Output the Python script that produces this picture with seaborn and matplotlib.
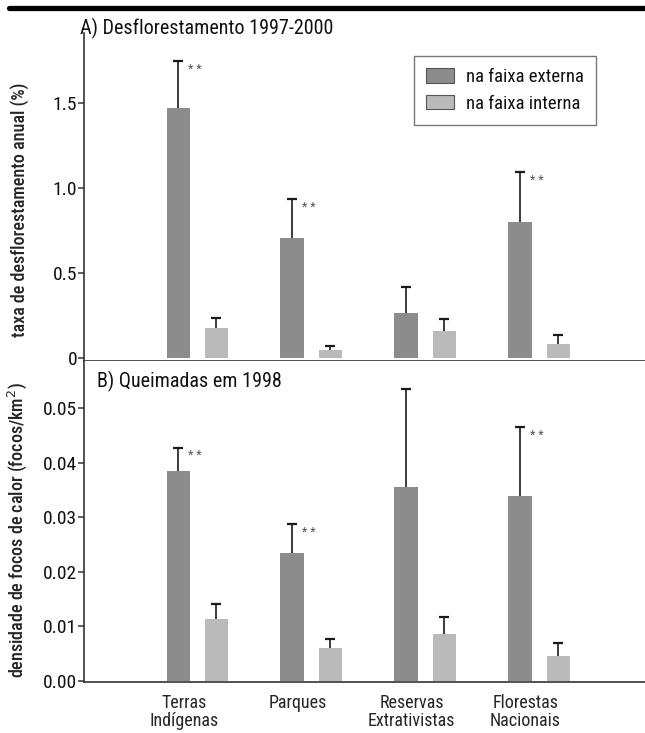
import numpy as np
import pandas as pd
import matplotlib
matplotlib.use('Agg')
import matplotlib.pyplot as plt
import seaborn as sns
from matplotlib import font_manager
from matplotlib.lines import Line2D

# Data
areas = ['Terras\nIndígenas', 'Parques', 'Reservas\nExtrativistas', 'Florestas\nNacionais']
faixas = ['na faixa externa', 'na faixa interna']

# A) annual deforestation rate (%)
desf_externa = [1.467, 0.702, 0.261, 0.796]
desf_interna = [0.173, 0.045, 0.159, 0.082]
desf_err_externa = [0.278, 0.231, 0.153, 0.294]
desf_err_interna = [0.062, 0.024, 0.067, 0.052]
desf_signif = [True, True, False, True]

# B) fire density 1998 (focos/km2)
queim_externa = [0.0385, 0.0234, 0.0356, 0.0339]
queim_interna = [0.0114, 0.0060, 0.0086, 0.0046]
queim_err_externa = [0.0043, 0.0054, 0.0179, 0.0127]
queim_err_interna = [0.0028, 0.0016, 0.0032, 0.0024]
queim_signif = [True, True, False, True]

cor_externa = '#8c8c8c'
cor_interna = '#bababa'

sns.set_theme(style='ticks')

# pick a narrow font if one is installed
available = {f.name for f in font_manager.fontManager.ttflist}
fam = 'DejaVu Sans'
for cand in ['Roboto Condensed', 'Liberation Sans Narrow', 'DejaVu Sans Condensed', 'Open Sans Condensed']:
    if cand in available:
        fam = cand
        break
else:
    if any(f.name == 'DejaVu Sans' and 'condensed' in str(f.stretch) for f in font_manager.fontManager.ttflist):
        plt.rcParams['font.stretch'] = 'condensed'
plt.rcParams['font.family'] = [fam, 'DejaVu Sans']
plt.rcParams['text.color'] = '#111111'
plt.rcParams['ytick.color'] = '#333333'
plt.rcParams['ytick.labelcolor'] = '#111111'


def long_df(ext, intr, err_ext, err_int):
    return pd.DataFrame({
        'area': areas * 2,
        'faixa': [faixas[0]] * 4 + [faixas[1]] * 4,
        'valor': ext + intr,
        'erro': err_ext + err_int,
    })


def draw_panel(ax, df, signif, show_legend):
    sns.barplot(data=df, x='area', y='valor', hue='faixa', order=areas, hue_order=faixas,
                palette=[cor_externa, cor_interna], width=0.672, gap=0.39,
                errorbar=None, ax=ax, legend=show_legend, linewidth=0, saturation=1)
    for cont, faixa in zip(ax.containers, faixas):
        sub = df[df['faixa'] == faixa].set_index('area').loc[areas]
        xs = [p.get_x() + p.get_width() / 2 for p in cont]
        vals = sub['valor'].values
        errs = sub['erro'].values
        eb = ax.errorbar(xs, vals, yerr=[np.zeros(len(vals)), errs], fmt='none',
                         ecolor='#1a1a1a', elinewidth=1.2, capsize=3.4, capthick=1.6, zorder=3)
        eb[1][0].set_visible(False)  # hide lower caps
        if faixa == faixas[0]:
            for x, v, e, s in zip(xs, vals, errs, signif):
                if s:
                    ax.annotate('* *', (x, v + e), xytext=(7, -6), textcoords='offset points',
                                ha='left', va='center', fontsize=9, color='#555555')
    ax.set_xlabel('')
    ax.set_xlim(-0.995, 3.93)
    sns.despine(ax=ax)
    for sp in ['left', 'bottom']:
        ax.spines[sp].set_color('#333333')
        ax.spines[sp].set_linewidth(1.2)
    ax.tick_params(axis='y', direction='out', length=4, width=1.1, labelsize=14, pad=1)


fig = plt.figure(figsize=(6.45, 7.33), dpi=100)
axA = fig.add_axes([84 / 645, 1 - 361 / 733, 561 / 645, 328 / 733])
axB = fig.add_axes([84 / 645, 1 - 682 / 733, 561 / 645, 321 / 733])

dfA = long_df(desf_externa, desf_interna, desf_err_externa, desf_err_interna)
dfB = long_df(queim_externa, queim_interna, queim_err_externa, queim_err_interna)

draw_panel(axA, dfA, desf_signif, True)
draw_panel(axB, dfB, queim_signif, False)

# panel A axes
axA.set_ylim(-0.019, 1.91)
axA.set_yticks([0, 0.5, 1.0, 1.5], ['0', '0.5', '1.0', '1.5'])
axA.set_xticks([])
axA.set_ylabel('taxa de desflorestamento anual (%)', fontsize=13, fontweight='medium')
axA.yaxis.set_label_coords(-0.098, 0.46)

handles, labels = axA.get_legend_handles_labels()
leg = axA.legend(handles, labels, loc='upper right', bbox_to_anchor=(0.912, 0.93),
                 frameon=True, fancybox=False, edgecolor='#555555', fontsize=13.5,
                 handlelength=1.5, handleheight=0.8, handletextpad=0.6,
                 labelspacing=0.45, borderpad=0.65, borderaxespad=0)
leg.get_frame().set_linewidth(1.0)
for p in leg.get_patches():
    p.set_edgecolor('#555555')
    p.set_linewidth(0.8)

# panel B axes
axB.set_ylim(-0.0002, 0.0587)
axB.set_yticks([0, 0.01, 0.02, 0.03, 0.04, 0.05],
               ['0.00', '0.01', '0.02', '0.03', '0.04', '0.05'])
axB.set_xticks(np.arange(len(areas)) - 0.12, areas)
axB.tick_params(axis='x', length=0, labelsize=13, pad=9)
for lab in axB.get_xticklabels():
    lab.set_linespacing(0.95)
axB.set_ylabel('densidade de focos de calor (focos/km$^2$)', fontsize=13, fontweight='medium')
axB.yaxis.set_label_coords(-0.098, 0.473)

# titles and top rule
fig.text(80 / 645, 1 - 28 / 733, 'A) Desflorestamento 1997-2000', fontsize=14.5,
         ha='left', va='center')
axB.text(0.023, 0.935, 'B) Queimadas em 1998', transform=axB.transAxes, fontsize=14.5,
         ha='left', va='center')
fig.add_artist(Line2D([9 / 645, 1], [1 - 7.5 / 733] * 2, color='black', linewidth=3.8,
                      transform=fig.transFigure))

fig.savefig('out.png', dpi=100)
